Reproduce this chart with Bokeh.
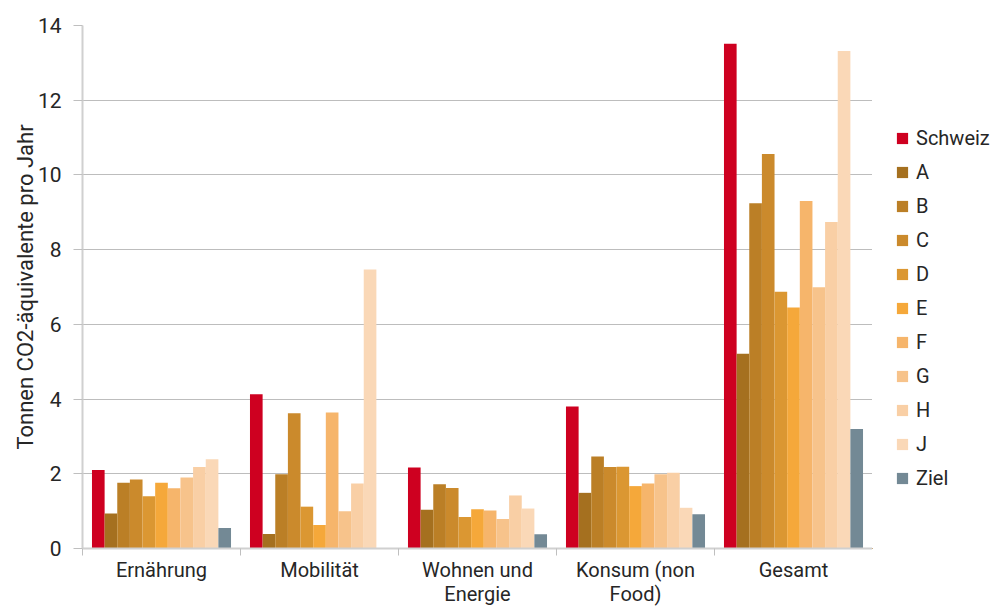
from bokeh.plotting import figure
from bokeh.layouts import row
from bokeh.models import (ColumnDataSource, Range1d, Legend, LegendItem, FixedTicker,
                          SingleIntervalTicker)
from bokeh.transform import dodge
from bokeh.embed import file_html
from bokeh.resources import INLINE

categories = ["Ernährung", "Mobilität", "Wohnen und\nEnergie", "Konsum (non\nFood)", "Gesamt"]
series = ["Schweiz", "A", "B", "C", "D", "E", "F", "G", "H", "J", "Ziel"]
schweiz = [2.10, 4.13, 2.17, 3.80, 13.51]
a = [0.94, 0.39, 1.04, 1.49, 5.21]
b = [1.76, 1.99, 1.72, 2.46, 9.24]
c = [1.85, 3.62, 1.62, 2.18, 10.56]
d = [1.40, 1.12, 0.84, 2.19, 6.87]
e = [1.76, 0.63, 1.05, 1.67, 6.45]
f = [1.61, 3.64, 1.02, 1.74, 9.30]
g = [1.90, 1.00, 0.79, 1.99, 6.99]
h = [2.18, 1.74, 1.42, 2.03, 8.74]
j = [2.39, 7.47, 1.07, 1.09, 13.32]
ziel = [0.55, 0.0, 0.38, 0.92, 3.20]
colors = ["#CE0020", "#A5701F", "#BB7F26", "#CB8A2C", "#DB9732", "#F5A83A",
          "#F6B56B", "#F7C38B", "#F9CFA5", "#FAD8B7", "#738995"]
y_label = "Tonnen CO2-äquivalente pro Jahr"

values = [schweiz, a, b, c, d, e, f, g, h, j, ziel]
centers = [i + 0.5 for i in range(len(categories))]
data = {"x": centers}
for s, v in zip(series, values):
    data[s] = v
source = ColumnDataSource(data)

FONT = "Roboto"
TXT = "#262626"

p = figure(width=872, height=608, x_range=Range1d(0, len(categories)), y_range=Range1d(0, 14),
           output_backend="svg", toolbar_location=None,
           min_border_left=82, min_border_right=0, min_border_top=25, min_border_bottom=60)
p.outline_line_color = None
p.background_fill_color = "white"
p.border_fill_color = "white"

n = len(series)
group_w = 0.88
bw = group_w / n
for i, s in enumerate(series):
    off = -group_w / 2 + bw / 2 + i * bw
    p.vbar(x=dodge("x", off, range=p.x_range), top=s, width=bw, bottom=0,
           source=source, fill_color=colors[i], line_color=None)

# x axis
p.xaxis.ticker = FixedTicker(ticks=centers, minor_ticks=list(range(len(categories) + 1)))
p.xaxis.major_label_overrides = {cx: lab for cx, lab in zip(centers, categories)}
p.xaxis.major_tick_line_color = None
p.xaxis.major_tick_out = 0
p.xaxis.major_tick_in = 0
p.xaxis.minor_tick_line_color = "#bfbfbf"
p.xaxis.minor_tick_out = 7
p.xaxis.minor_tick_in = 0
p.xaxis.axis_line_color = "#d0d0d0"
p.xaxis.axis_line_width = 2
p.xaxis.major_label_text_font = FONT
p.xaxis.major_label_text_font_size = "20px"
p.xaxis.major_label_text_line_height = 1.0
p.xaxis.major_label_text_color = TXT
p.xaxis.major_label_standoff = 2

# y axis
p.yaxis.ticker = SingleIntervalTicker(interval=2, num_minor_ticks=0)
p.yaxis.major_tick_out = 9
p.yaxis.major_tick_in = 0
p.yaxis.major_tick_line_color = "#bfbfbf"
p.yaxis.minor_tick_line_color = None
p.yaxis.axis_line_color = "#d0d0d0"
p.yaxis.axis_line_width = 2
p.yaxis.major_label_text_font = FONT
p.yaxis.major_label_text_font_size = "21px"
p.yaxis.major_label_text_color = TXT
p.yaxis.major_label_standoff = 12
p.yaxis.axis_label = y_label
p.yaxis.axis_label_text_font = FONT
p.yaxis.axis_label_text_font_size = "22px"
p.yaxis.axis_label_text_font_style = "normal"
p.yaxis.axis_label_text_color = TXT
p.yaxis.axis_label_standoff = -3

p.xgrid.grid_line_color = None
p.ygrid.grid_line_color = "#bdbdbd"
p.ygrid.grid_line_width = 1

# legend panel (its bars lie outside its visible ranges; only the legend shows)
pl = figure(width=126, height=608, x_range=Range1d(10, 11), y_range=Range1d(20, 21),
            output_backend="svg", toolbar_location=None,
            min_border=0, min_border_left=0, min_border_right=0,
            min_border_top=0, min_border_bottom=0)
pl.axis.visible = False
pl.grid.visible = False
pl.outline_line_color = None
pl.background_fill_color = "white"
pl.border_fill_color = "white"
items = []
for i, s in enumerate(series):
    r = pl.vbar(x="x", top=s, width=bw, source=source, fill_color=colors[i], line_color=None)
    items.append(LegendItem(label=s, renderers=[r], index=0))
legend = Legend(items=items, location=(23, 58), orientation="vertical",
                glyph_width=14, glyph_height=14, label_height=14, spacing=10,
                label_standoff=7, padding=0, margin=0, border_line_color=None,
                background_fill_alpha=0, label_text_font=FONT,
                label_text_font_size="20px", label_text_color=TXT)
pl.add_layout(legend)

layout = row(p, pl, spacing=0)
open("out.html", "w").write(file_html(layout, INLINE))
